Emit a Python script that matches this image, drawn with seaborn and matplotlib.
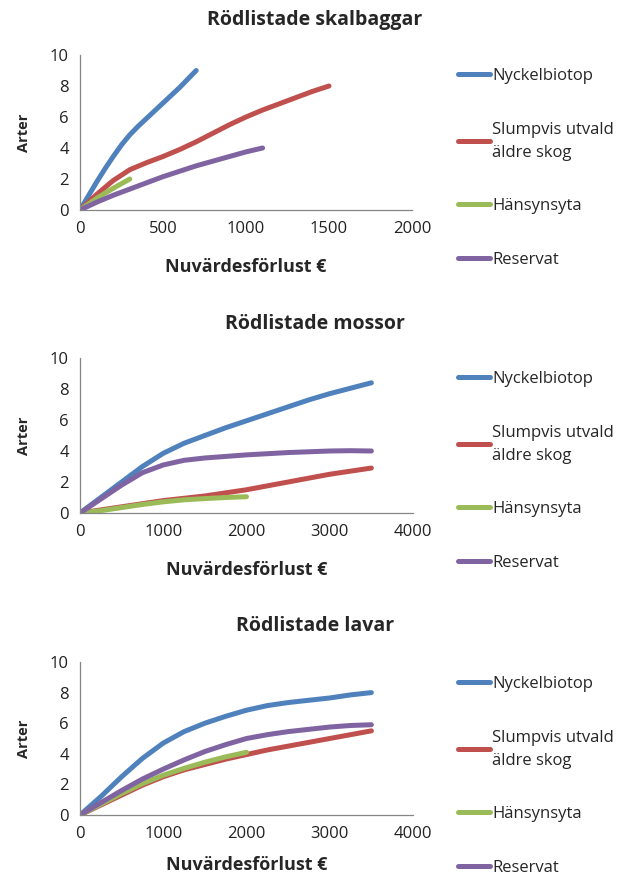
import pandas as pd
import numpy as np
import matplotlib
matplotlib.use("Agg")
import matplotlib.pyplot as plt
import seaborn as sns

# series names and colours (Excel 2007 palette)
series = ["Nyckelbiotop", "Slumpvis utvald\näldre skog", "Hänsynsyta", "Reservat"]
colors = ["#4F81BD", "#C0504D", "#9BBB59", "#8064A2"]

# --- Rödlistade skalbaggar
skal_nyckel_x = [0, 50, 100, 150, 200, 250, 300, 350, 400, 450, 500, 550, 600, 650, 700]
skal_nyckel_y = [0, 0.9, 1.8, 2.65, 3.45, 4.2, 4.85, 5.4, 5.9, 6.4, 6.9, 7.4, 7.9, 8.45, 9.0]
skal_slump_x = [0, 100, 200, 300, 400, 500, 600, 700, 800, 900, 1000, 1100, 1200, 1300, 1400, 1500]
skal_slump_y = [0, 1.0, 1.9, 2.6, 3.05, 3.45, 3.9, 4.4, 4.95, 5.5, 6.0, 6.45, 6.85, 7.25, 7.65, 8.0]
skal_hans_x = [0, 100, 200, 300]
skal_hans_y = [0, 0.75, 1.4, 2.0]
skal_res_x = [0, 100, 200, 300, 400, 500, 600, 700, 800, 900, 1000, 1100]
skal_res_y = [0, 0.5, 0.95, 1.35, 1.75, 2.15, 2.5, 2.85, 3.15, 3.45, 3.75, 4.0]

# --- Rödlistade mossor
moss_nyckel_x = [0, 250, 500, 750, 1000, 1250, 1500, 1750, 2000, 2250, 2500, 2750, 3000, 3250, 3500]
moss_nyckel_y = [0, 1.0, 2.0, 3.0, 3.85, 4.5, 5.0, 5.5, 5.95, 6.4, 6.85, 7.3, 7.7, 8.05, 8.4]
moss_slump_x = [0, 500, 1000, 1500, 2000, 2500, 3000, 3500]
moss_slump_y = [0, 0.4, 0.8, 1.1, 1.5, 2.0, 2.5, 2.9]
moss_hans_x = [0, 250, 500, 750, 1000, 1250, 1500, 1750, 2000]
moss_hans_y = [0, 0.15, 0.35, 0.55, 0.72, 0.85, 0.93, 1.0, 1.05]
moss_res_x = [0, 250, 500, 750, 1000, 1250, 1500, 1750, 2000, 2500, 3000, 3250, 3500]
moss_res_y = [0, 0.9, 1.8, 2.6, 3.1, 3.4, 3.55, 3.65, 3.75, 3.9, 4.0, 4.02, 4.0]

# --- Rödlistade lavar
lav_nyckel_x = [0, 250, 500, 750, 1000, 1250, 1500, 1750, 2000, 2250, 2500, 2750, 3000, 3250, 3500]
lav_nyckel_y = [0, 1.2, 2.5, 3.7, 4.7, 5.45, 6.0, 6.45, 6.85, 7.15, 7.35, 7.5, 7.65, 7.85, 8.0]
lav_slump_x = [0, 250, 500, 750, 1000, 1250, 1500, 1750, 2000, 2250, 2500, 2750, 3000, 3250, 3500]
lav_slump_y = [0, 0.65, 1.3, 1.95, 2.5, 2.95, 3.3, 3.65, 3.95, 4.25, 4.5, 4.75, 5.0, 5.25, 5.5]
lav_hans_x = [0, 250, 500, 750, 1000, 1250, 1500, 1750, 2000]
lav_hans_y = [0, 0.7, 1.4, 2.05, 2.6, 3.05, 3.45, 3.8, 4.1]
lav_res_x = [0, 250, 500, 750, 1000, 1250, 1500, 1750, 2000, 2250, 2500, 2750, 3000, 3250, 3500]
lav_res_y = [0, 0.8, 1.6, 2.35, 3.0, 3.6, 4.15, 4.6, 5.0, 5.25, 5.45, 5.6, 5.75, 5.85, 5.9]

titles = ["Rödlistade skalbaggar", "Rödlistade mossor", "Rödlistade lavar"]
xmax = [2000, 4000, 4000]
xstep = [500, 1000, 1000]

panels = [
    [(skal_nyckel_x, skal_nyckel_y), (skal_slump_x, skal_slump_y),
     (skal_hans_x, skal_hans_y), (skal_res_x, skal_res_y)],
    [(moss_nyckel_x, moss_nyckel_y), (moss_slump_x, moss_slump_y),
     (moss_hans_x, moss_hans_y), (moss_res_x, moss_res_y)],
    [(lav_nyckel_x, lav_nyckel_y), (lav_slump_x, lav_slump_y),
     (lav_hans_x, lav_hans_y), (lav_res_x, lav_res_y)],
]

sns.set_style("white")
plt.rcParams["font.family"] = ["Open Sans", "DejaVu Sans"]

fig = plt.figure(figsize=(6.4, 8.83), dpi=100)
H = 883.0
# axes boxes in pixels: (left, top, right, bottom)
boxes = [(80, 55, 412, 210), (80, 358, 413, 513), (80, 662, 413, 815)]
title_y = [20, 324, 626]
xlabel_y = [268, 571, 866]
legend_top = [68, 371, 676]
grey = "#868686"

for i, (panel, box) in enumerate(zip(panels, boxes)):
    l, t, r, b = box
    ax = fig.add_axes([l / 640, 1 - b / H, (r - l) / 640, (b - t) / H])
    rows = []
    for name, (xs, ys) in zip(series, panel):
        for x, y in zip(xs, ys):
            rows.append({"x": x, "y": y, "serie": name})
    df = pd.DataFrame(rows)
    sns.lineplot(data=df, x="x", y="y", hue="serie", hue_order=series,
                 palette=colors, sort=False, linewidth=3.6, ax=ax,
                 solid_capstyle="round", solid_joinstyle="round", estimator=None)
    ax.set_xlim(0, xmax[i])
    ax.set_ylim(0, 10)
    ax.set_xticks(np.arange(0, xmax[i] + 1, xstep[i]))
    ax.set_yticks(np.arange(0, 11, 2))
    for s in ["top", "right"]:
        ax.spines[s].set_visible(False)
    for s in ["left", "bottom"]:
        ax.spines[s].set_color(grey)
        ax.spines[s].set_linewidth(0.9)
    ax.tick_params(axis="both", direction="out", length=4, width=0.9,
                   color=grey, labelsize=12, labelcolor="#222222", pad=4)
    ax.set_xlabel("Nuvärdesförlust €", fontsize=13, fontweight="bold")
    ax.set_ylabel("Arter", fontsize=10.5, fontweight="bold")
    ax.xaxis.set_label_coords(0.5, -(xlabel_y[i] - b - 10) / (b - t))
    ax.yaxis.set_label_coords(-(l - 31) / (r - l), 0.5)
    ax.text((315 - l) / (r - l), 1 + (t - title_y[i]) / (b - t), titles[i],
            transform=ax.transAxes, ha="center", va="center",
            fontsize=14, fontweight="bold")
    handles, labels = ax.get_legend_handles_labels()
    leg = ax.legend(handles, labels, loc="upper left",
                    bbox_to_anchor=(458 / 640, 1 - legend_top[i] / H),
                    bbox_transform=fig.transFigure, frameon=False, fontsize=12,
                    handlelength=1.9, handletextpad=0.15, labelspacing=2.25,
                    borderpad=0, borderaxespad=0)
    leg.get_texts()[1].set_linespacing(1.6)

fig.savefig("out.png", dpi=100)
